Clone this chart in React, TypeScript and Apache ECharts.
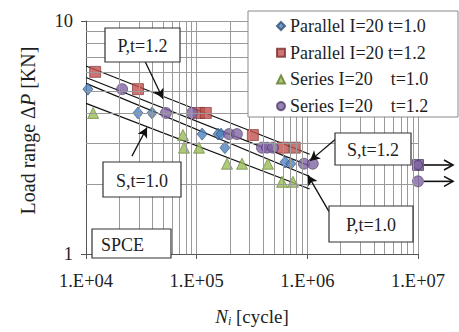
import React, { useEffect, useRef } from "react";
import * as echarts from "echarts";

// ---- tick labels ----
const xTickLabels = ["1.E+04", "1.E+05", "1.E+06", "1.E+07"];
const yTickLabels = ["1", "10"];
const decades = [1e4, 1e5, 1e6];
const minorSteps = [2, 3, 4, 5, 6, 7, 8, 9];
const yMinorValues = [2, 3, 4, 5, 6, 7, 8, 9];

// ---- series (N cycles, load range kN) ----
const seriesNames = [
  "Parallel I=20 t=1.0",
  "Parallel I=20 t=1.2",
  "Series I=20\u00a0\u00a0\u00a0\u00a0t=1.0",
  "Series I=20\u00a0\u00a0\u00a0\u00a0t=1.2",
];
const parallel10 = [
  [1.04e4, 5.1], [2.95e4, 4.03], [3.95e4, 4.03], [1.12e5, 3.27], [1.56e5, 3.27],
  [1.66e5, 3.27], [1.8e5, 2.86], [6.28e5, 2.48], [7.1e5, 2.44],
];
const parallel12 = [
  [1.21e4, 6.05], [2.95e4, 5.1], [1.05e5, 4.03], [1.21e5, 4.03], [3.22e5, 3.24],
  [6.02e5, 2.86], [7.7e5, 2.86],
];
const series10 = [
  [1.16e4, 4.03], [7.52e4, 3.24], [7.68e4, 2.86], [1.05e5, 2.86], [1.88e5, 2.44],
  [2.57e5, 2.44], [4.4e5, 2.44], [5.9e5, 2.04], [7.41e5, 2.04],
];
const series12 = [
  [2.12e4, 5.1], [5.28e4, 4.03], [9.07e4, 4.03], [1.96e5, 3.27], [2.31e5, 3.27],
  [3.89e5, 2.86], [4.32e5, 2.86], [4.89e5, 2.86], [9.32e5, 2.44], [1.12e6, 2.44],
];
const runoutSquare = [[1e7, 2.41]];
const runoutCircle = [[1e7, 2.05]];

// ---- fitted lines ----
const fitP12 = [[1e4, 6.41], [1.05e6, 2.68]];
const fitS12 = [[1e4, 5.72], [1.05e6, 2.39]];
const fitP10 = [[1e4, 5.4], [1.05e6, 2.15]];
const fitS10 = [[1e4, 4.43], [1.05e6, 1.9]];

// ---- annotation arrows (data coords) ----
const arrowP12 = [[3.41e4, 6.72], [4.96e4, 4.64]];
const arrowS10 = [[2.6e4, 2.63], [3.56e4, 3.49]];
const arrowS12 = [[1.85e6, 3.15], [1.055e6, 2.51]];
const arrowP10 = [[1.57e6, 1.52], [1.01e6, 2.18]];

const FONT = "'Liberation Serif', 'Times New Roman', serif";
const TXT = "#1e1e1e";
const BLUE = "#4f81bd";
const RED = "#c0504d";
const GREEN = "#9bbb59";
const PURPLE = "#8064a2";

export default function App() {
  const ref = useRef<HTMLDivElement>(null);
  useEffect(() => {
    document.body.style.margin = "0";
    const chart = echarts.init(ref.current!, undefined, { renderer: "svg" });

    const gridLines: any[] = [];
    decades.forEach((d) => minorSteps.forEach((m) => gridLines.push({ xAxis: d * m })));
    yMinorValues.forEach((v) => gridLines.push({ yAxis: v }));

    const arrowLine = (a: number[][]) => [{ coord: a[0] }, { coord: a[1] }];

    const scatterBase = {
      type: "scatter",
      z: 3,
      clip: false,
    };

    const fit = (d: number[][]) => ({
      type: "line",
      data: d,
      symbol: "none",
      z: 2,
      silent: true,
      lineStyle: { color: "#111", width: 1.2 },
    });

    const boxes = [
      { x: 105, y: 28, w: 75, h: 34, t: "P,t=1.2", align: "center" },
      { x: 103, y: 162, w: 78, h: 35, t: "S,t=1.0", align: "center" },
      { x: 92, y: 229, w: 79, h: 29, t: "SPCE", align: "left" },
      { x: 335, y: 133, w: 76, h: 32, t: "S,t=1.2", align: "center" },
      { x: 329, y: 206, w: 84, h: 36, t: "P,t=1.0", align: "center" },
    ];
    const graphic: any[] = [
      {
        id: "legendBox",
        type: "rect",
        z: 9,
        shape: { x: 248, y: 11, width: 210, height: 106 },
        style: { fill: "#fff", stroke: "#8a8a8a", lineWidth: 1 },
      },
    ];
    boxes.forEach((b, i) => {
      graphic.push({
        id: "box" + i,
        type: "rect",
        z: 9,
        shape: { x: b.x, y: b.y, width: b.w, height: b.h },
        style: { fill: "#fff", stroke: "#333", lineWidth: 1.2 },
      });
      graphic.push({
        id: "boxText" + i,
        type: "text",
        z: 10,
        x: b.align === "center" ? b.x + b.w / 2 : b.x + 9,
        y: b.y + b.h / 2 + 1,
        style: {
          text: b.t,
          font: `18px ${FONT}`,
          fill: TXT,
          align: b.align,
          verticalAlign: "middle",
        },
      });
    });

    chart.setOption({
      animation: false,
      backgroundColor: "#fff",
      grid: { left: 86, top: 21, width: 332, height: 243, containLabel: false },
      xAxis: {
        type: "log",
        logBase: 10,
        min: 1e4,
        max: 1e7,
        interval: 1,
        name: "{n|N}{i|i}{t| [cycle]}",
        nameLocation: "middle",
        nameGap: 51,
        nameTextStyle: {
          color: TXT,
          fontFamily: FONT,
          rich: {
            n: { fontStyle: "italic", fontSize: 19, fontFamily: FONT, color: TXT, lineHeight: 22 },
            i: { fontStyle: "italic", fontSize: 12, fontFamily: FONT, color: TXT, lineHeight: 8, verticalAlign: "bottom" },
            t: { fontSize: 19, fontFamily: FONT, color: TXT, lineHeight: 22 },
          },
        },
        axisLine: { show: true, lineStyle: { color: "#555", width: 1 } },
        axisTick: { show: true, length: 5, lineStyle: { color: "#555" } },
        axisLabel: {
          color: TXT,
          fontFamily: FONT,
          fontSize: 18.5,
          margin: 17,
          formatter: (v: number) => xTickLabels[Math.round(Math.log10(v)) - 4] ?? "",
        },
        splitLine: { show: true, lineStyle: { color: "#9a9a9a", width: 1 } },
      },
      yAxis: {
        type: "log",
        logBase: 10,
        min: 1,
        max: 10,
        interval: 1,
        name: "Load range Δ{p|P} [KN]",
        nameLocation: "middle",
        nameGap: 48,
        nameTextStyle: {
          color: TXT,
          fontFamily: FONT,
          fontSize: 20,
          padding: [0, 0, 0, 14],
          rich: {
            p: { fontStyle: "italic", fontSize: 20, fontFamily: FONT, color: TXT },
          },
        },
        axisLine: { show: true, lineStyle: { color: "#555", width: 1 } },
        axisTick: { show: true, length: 5, lineStyle: { color: "#555" } },
        axisLabel: {
          color: TXT,
          fontFamily: FONT,
          fontSize: 18.5,
          margin: 13,
          formatter: (v: number) => yTickLabels[Math.round(Math.log10(v))] ?? "",
        },
        splitLine: { show: true, lineStyle: { color: "#9a9a9a", width: 1 } },
      },
      legend: {
        data: seriesNames,
        orient: "vertical",
        left: 276,
        top: 16,
        padding: 0,
        itemGap: 6.7,
        itemWidth: 8,
        itemHeight: 8,
        z: 10,
        textStyle: { color: TXT, fontFamily: FONT, fontSize: 18, lineHeight: 20 },
      },
      graphic,
      series: [
        {
          type: "line",
          data: [],
          z: 1,
          silent: true,
          markLine: {
            silent: true,
            symbol: "none",
            label: { show: false },
            lineStyle: { color: "#9a9a9a", width: 1, type: "solid" },
            emphasis: { disabled: true },
            data: gridLines,
          },
        },
        fit(fitP12),
        fit(fitS12),
        fit(fitP10),
        fit(fitS10),
        {
          ...scatterBase,
          name: seriesNames[0],
          data: parallel10,
          symbol: "diamond",
          symbolSize: [10, 12],
          itemStyle: { color: BLUE, borderColor: "#2c4d75", borderWidth: 0.8 },
        },
        {
          ...scatterBase,
          name: seriesNames[1],
          data: parallel12,
          symbol: "rect",
          symbolSize: 11,
          itemStyle: { color: RED, borderColor: "#7a2f2d", borderWidth: 0.8 },
        },
        {
          ...scatterBase,
          name: seriesNames[2],
          data: series10,
          symbol: "triangle",
          symbolSize: [11, 11],
          itemStyle: { color: GREEN, borderColor: "#5d7a2a", borderWidth: 0.8 },
        },
        {
          ...scatterBase,
          name: seriesNames[3],
          data: series12,
          symbol: "circle",
          symbolSize: 11,
          itemStyle: { color: PURPLE, borderColor: "#4d3a66", borderWidth: 0.8 },
        },
        {
          ...scatterBase,
          data: runoutSquare,
          symbol: "rect",
          symbolSize: 11,
          z: 3,
          itemStyle: { color: "#6a4f8c", borderColor: "#3d2c52", borderWidth: 0.8 },
        },
        {
          ...scatterBase,
          data: runoutSquare,
          symbol: "circle",
          symbolSize: 9,
          z: 4,
          itemStyle: { color: PURPLE, borderColor: "#3d2c52", borderWidth: 0.8 },
        },
        {
          ...scatterBase,
          data: runoutCircle,
          symbol: "circle",
          symbolSize: 11,
          itemStyle: { color: PURPLE, borderColor: "#4d3a66", borderWidth: 0.8 },
        },
        {
          type: "line",
          data: [],
          z: 6,
          silent: true,
          markLine: {
            silent: true,
            symbol: ["none", "arrow"],
            symbolSize: [8, 10],
            label: { show: false },
            lineStyle: { color: "#111", width: 1.3, type: "solid" },
            emphasis: { disabled: true },
            data: [arrowLine(arrowP12), arrowLine(arrowS10), arrowLine(arrowS12), arrowLine(arrowP10)],
          },
        },
      ],
    });

    // run-out arrows, starting at the run-out points located through the axes
    const runoutArrows: any[] = [];
    [runoutSquare[0], runoutCircle[0]].forEach((pt, i) => {
      const p = chart.convertToPixel({ gridIndex: 0 }, pt) as number[];
      if (!p) return;
      const x0 = p[0] + 6;
      const x1 = 453;
      const y = p[1];
      runoutArrows.push({
        id: "runShaft" + i,
        type: "line",
        z: 2,
        shape: { x1: x0, y1: y, x2: x1, y2: y },
        style: { stroke: "#111", lineWidth: 1.6 },
      });
      runoutArrows.push({
        id: "runHead" + i,
        type: "polyline",
        z: 2,
        shape: { points: [[x1 - 9, y - 5], [x1, y], [x1 - 9, y + 5]] },
        style: { stroke: "#111", lineWidth: 1.6, fill: "none" },
      });
    });
    chart.setOption({ graphic: runoutArrows });

    return () => chart.dispose();
  }, []);
  return (
    <div
      ref={ref}
      style={{ position: "absolute", left: 0, top: 0, width: 459, height: 332 }}
    />
  );
}
